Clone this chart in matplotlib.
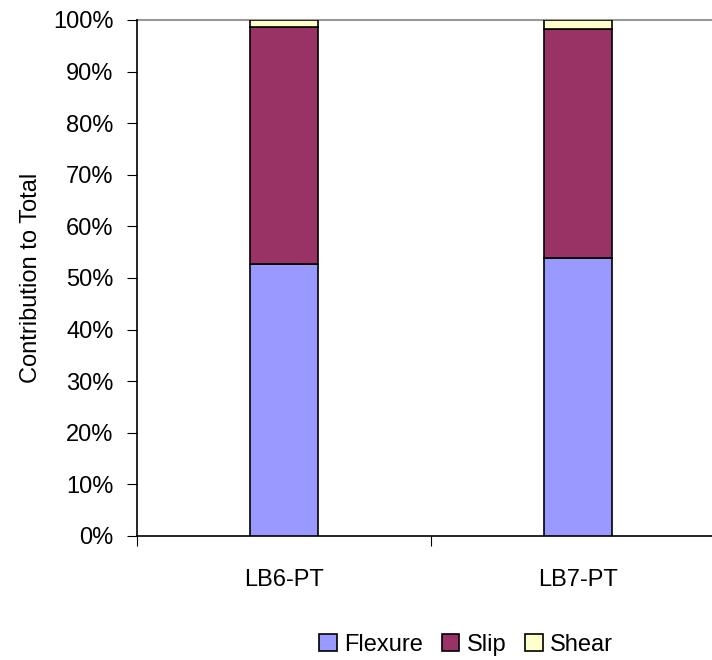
import matplotlib
matplotlib.use("Agg")
import matplotlib.pyplot as plt
import numpy as np

plt.rcParams['font.family'] = ['Liberation Sans', 'DejaVu Sans']

# values (fractions of total, in %)
specimens = ["LB6-PT", "LB7-PT"]
flexure = [52.7, 53.9]
slip = [45.9, 44.4]
shear = [1.4, 1.7]

fig = plt.figure(figsize=(7.12, 6.6), dpi=100)
ax = fig.add_axes([137 / 712, 1 - 536 / 660, 588 / 712, 516 / 660])

x = np.arange(len(specimens))
w = 0.23
kw = dict(width=w, edgecolor="black", linewidth=1.2, zorder=3)
b1 = ax.bar(x, flexure, color="#9999ff", label="Flexure", **kw)
b2 = ax.bar(x, slip, bottom=flexure, color="#993366", label="Slip", **kw)
bot = np.array(flexure) + np.array(slip)
b3 = ax.bar(x, shear, bottom=bot, color="#ffffcc", label="Shear", **kw)

ax.set_xlim(-0.5, 1.5)
ax.set_ylim(0, 100)
ax.set_yticks(np.arange(0, 101, 10))
ax.set_yticklabels([f"{v}%" for v in range(0, 101, 10)])
ax.axhline(100, color="#999999", lw=1.5, zorder=1, clip_on=False)

ax.set_xticks([-0.5, 0.5, 1.5])
ax.set_xticklabels([])
ax.set_xticks(x, minor=True)
ax.set_xticklabels(specimens, minor=True)
ax.tick_params(axis="x", which="minor", length=0, pad=24, labelsize=17)
ax.tick_params(axis="x", which="major", length=7, direction="out")
ax.tick_params(axis="y", length=7, direction="out", labelsize=17, pad=10)

for s in ["top", "right"]:
    ax.spines[s].set_visible(False)
for s in ["left", "bottom"]:
    ax.spines[s].set_linewidth(1.2)

ax.set_ylabel("Contribution to Total", fontsize=17, labelpad=8)

fig.legend(handles=[b1, b2, b3], loc="center", bbox_to_anchor=(466 / 712, 1 - 645 / 660),
           ncol=3, frameon=False, fontsize=17, handlelength=0.75, handleheight=0.75,
           handletextpad=0.3, columnspacing=0.8)

fig.savefig("out.png", dpi=100)
